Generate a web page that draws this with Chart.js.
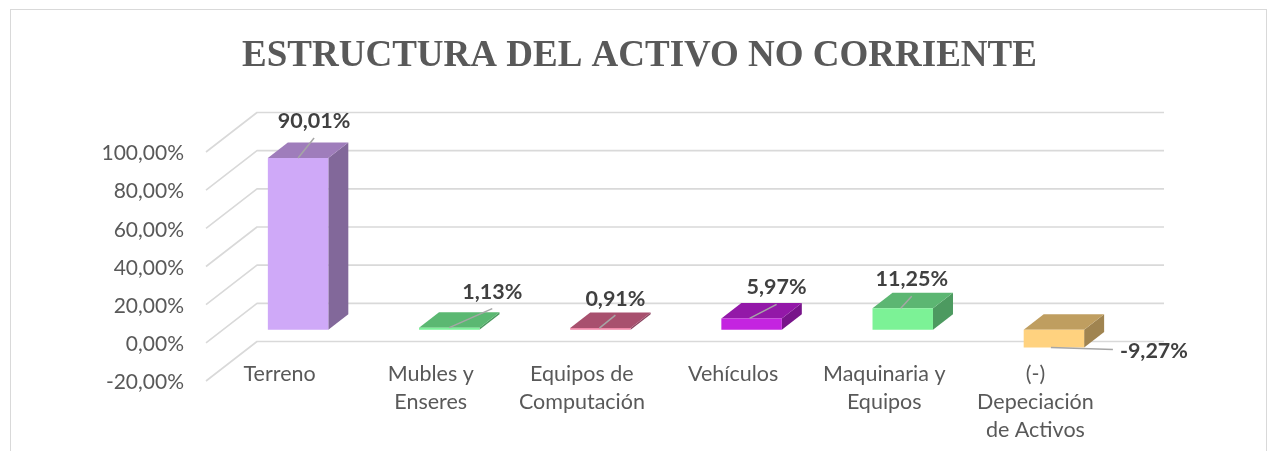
<!DOCTYPE html>
<html lang="es">
<head>
<meta charset="utf-8">
<title>Estructura del activo no corriente</title>
<script src="https://cdn.jsdelivr.net/npm/chart.js@4"></script>
<style>
  html, body { margin: 0; padding: 0; background: #fff; overflow: hidden; }
  #frame { position: absolute; left: 10px; top: 9px; width: 1257px; height: 460px; border: 1.5px solid #d9d9d9; box-sizing: border-box; }
  canvas { position: absolute; left: 0; top: 0; }
</style>
</head>
<body>
<div id="frame"></div>
<canvas id="c" width="1269" height="451"></canvas>
<script>
const titleText = 'ESTRUCTURA DEL ACTIVO NO CORRIENTE';
const categories = [
  'Terreno',
  ['Mubles y', 'Enseres'],
  ['Equipos de', 'Computación'],
  'Vehículos',
  ['Maquinaria y', 'Equipos'],
  ['(-)', 'Depeciación', 'de Activos']
];
const values = [90.01, 1.13, 0.91, 5.97, 11.25, -9.27];
const frontColors = ['#cfa9f8', '#7df29a', '#f08aaa', '#c424e0', '#7cf296', '#ffd27f'];
const topColors   = ['#9f7dbb', '#5bb872', '#a8506e', '#9318a8', '#5cb672', '#bf9e60'];
const sideColors  = ['#82689a', '#4c9a60', '#8c4460', '#78148a', '#4d9a60', '#a08450'];
const tickValues = [100, 80, 60, 40, 20, 0, -20];

const fmt = v => v.toFixed(2).replace('.', ',') + '%';

// Oblique projection of the 3-D box
const WALL = { dx: 51, dy: -39.5 };
const BAR_SHIFT = { dx: 16.5, dy: -13 };
const BAR_DEPTH = { dx: 20, dy: -15.5 };
// Leader line end and label centre relative to the bar's top/bottom centre
const leaders = [
  { sx: 0, ex: 16, ey: -20, lx: 16, ly: -37 },
  { sx: 0, ex: 43, ey: -19, lx: 43, ly: -36 },
  { sx: -1, ex: 15, ey: -13, lx: 15, ly: -29 },
  { sx: -2, ex: 25, ey: -14, lx: 25, ly: -31 },
  { sx: -2, ex: 9, ey: -12, lx: 9, ly: -29 },
  { sx: -3, ex: 59, ey: 2, lx: 100, ly: 4 }
];

const wallPlugin = {
  id: 'wall3d',
  afterLayout(chart) {
    // category labels start above the floor's front edge
    const x = chart.scales.x;
    x.top = chart.chartArea.bottom - 21;
  },
  beforeDatasetsDraw(chart) {
    const { ctx, chartArea: a, scales: { y } } = chart;
    ctx.save();
    ctx.strokeStyle = '#d9d9d9';
    ctx.lineWidth = 1.6;
    ctx.lineJoin = 'round';
    tickValues.forEach(v => {
      const py = y.getPixelForValue(v);
      ctx.beginPath();
      ctx.moveTo(a.left, py);
      ctx.lineTo(a.left + WALL.dx, py + WALL.dy);
      ctx.lineTo(a.right + WALL.dx, py + WALL.dy);
      ctx.stroke();
    });
    ctx.restore();

    ctx.save();
    ctx.translate(BAR_SHIFT.dx, BAR_SHIFT.dy);
    chart.getDatasetMeta(0).data.forEach((bar, i) => {
      const left = bar.x - bar.width / 2, right = bar.x + bar.width / 2;
      const top = Math.min(bar.y, bar.base), bottom = Math.max(bar.y, bar.base);
      const d = BAR_DEPTH;
      ctx.fillStyle = sideColors[i];
      ctx.beginPath();
      ctx.moveTo(right, top);
      ctx.lineTo(right + d.dx, top + d.dy);
      ctx.lineTo(right + d.dx, bottom + d.dy);
      ctx.lineTo(right, bottom);
      ctx.closePath();
      ctx.fill();
      ctx.fillStyle = topColors[i];
      ctx.beginPath();
      ctx.moveTo(left, top);
      ctx.lineTo(left + d.dx, top + d.dy);
      ctx.lineTo(right + d.dx, top + d.dy);
      ctx.lineTo(right, top);
      ctx.closePath();
      ctx.fill();
    });
  },
  afterDatasetsDraw(chart) {
    const { ctx } = chart;
    // still translated to the bar plane
    chart.getDatasetMeta(0).data.forEach((bar, i) => {
      const anchorY = values[i] < 0 ? bar.y : Math.min(bar.y, bar.base);
      const l = leaders[i];
      ctx.strokeStyle = '#a6a6a6';
      ctx.lineWidth = 1.5;
      ctx.beginPath();
      ctx.moveTo(bar.x + l.sx, anchorY);
      ctx.lineTo(bar.x + l.ex, anchorY + l.ey);
      ctx.stroke();
      ctx.fillStyle = '#404040';
      ctx.font = 'bold 21.5px Lato, "Open Sans", sans-serif';
      ctx.textAlign = 'center';
      ctx.textBaseline = 'middle';
      ctx.fillText(fmt(values[i]), bar.x + l.lx, anchorY + l.ly);
    });
    ctx.restore();
  }
};

new Chart(document.getElementById('c'), {
  type: 'bar',
  data: {
    labels: categories,
    datasets: [{
      data: values,
      backgroundColor: frontColors,
      borderWidth: 0,
      clip: false,
      barPercentage: 0.4,
      categoryPercentage: 1
    }]
  },
  options: {
    responsive: false,
    animation: false,
    devicePixelRatio: 1,
    layout: { padding: { left: 11, right: 1, top: 0, bottom: 0 } },
    plugins: {
      legend: { display: false },
      tooltip: { enabled: false },
      title: {
        display: true,
        text: titleText,
        color: '#595959',
        font: { family: '"Liberation Serif", "Times New Roman", serif', size: 37, weight: 'bold', lineHeight: 1.2 },
        padding: { top: 34, bottom: 73.6 }
      }
    },
    scales: {
      x: {
        grid: { display: false, drawTicks: false },
        border: { display: false },
        ticks: {
          autoSkip: false,
          maxRotation: 0,
          minRotation: 0,
          padding: 0,
          labelOffset: -2,
          color: '#595959',
          font: { family: 'Lato, "Open Sans", sans-serif', size: 21.5, lineHeight: 1.31 }
        },
        afterFit(s) { s.height = 70; }
      },
      y: {
        min: -20,
        max: 100,
        grid: { display: false, drawTicks: false },
        border: { display: false },
        ticks: {
          stepSize: 20,
          padding: 22,
          labelOffset: 1.5,
          color: '#595959',
          font: { family: 'Lato, "Open Sans", sans-serif', size: 21 },
          callback: v => fmt(v)
        },
        afterFit(s) { s.width = 195; }
      },
      pad: {
        position: 'right',
        display: true,
        grid: { display: false, drawTicks: false },
        border: { display: false },
        ticks: { display: false },
        afterFit(s) { s.width = 155; }
      }
    }
  },
  plugins: [wallPlugin]
});
</script>
</body>
</html>
